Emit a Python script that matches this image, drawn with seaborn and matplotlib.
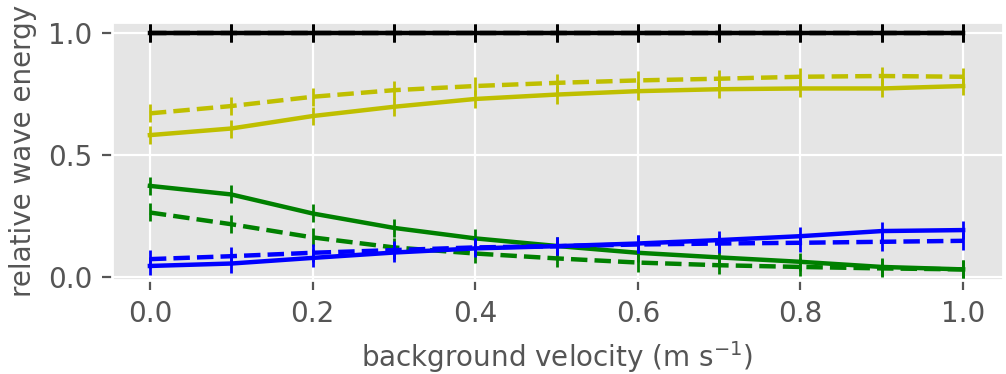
import matplotlib
matplotlib.use("Agg")
import matplotlib.pyplot as plt
import seaborn as sns

# background velocity (m/s)
velocity = [0.0, 0.1, 0.2, 0.3, 0.4, 0.5, 0.6, 0.7, 0.8, 0.9, 1.0]

# relative wave energy per band, two cases (solid / dashed)
total_a = [1.0] * 11
total_b = [1.0] * 11
yellow_a = [0.582, 0.609, 0.660, 0.698, 0.730, 0.748, 0.762, 0.770, 0.773, 0.773, 0.783]
yellow_b = [0.671, 0.701, 0.739, 0.766, 0.783, 0.796, 0.806, 0.813, 0.821, 0.824, 0.821]
green_a = [0.374, 0.339, 0.261, 0.202, 0.159, 0.128, 0.100, 0.081, 0.063, 0.042, 0.032]
green_b = [0.265, 0.217, 0.163, 0.122, 0.097, 0.077, 0.060, 0.049, 0.042, 0.036, 0.032]
blue_a = [0.046, 0.056, 0.079, 0.101, 0.118, 0.127, 0.138, 0.152, 0.168, 0.189, 0.193]
blue_b = [0.074, 0.086, 0.100, 0.111, 0.122, 0.127, 0.134, 0.138, 0.141, 0.145, 0.149]

plt.style.use("ggplot")
fig = plt.figure(figsize=(5.03, 1.87), dpi=200)
ax = fig.add_axes([0.111, 0.251, 0.886, 0.690])

series = [
    (yellow_a, "y", "-"), (yellow_b, "y", "--"),
    (green_a, "g", "-"), (green_b, "g", "--"),
    (blue_a, "b", "-"), (blue_b, "b", "--"),
    (total_a, "k", "-"), (total_b, "k", "--"),
]
for vals, col, ls in series:
    sns.lineplot(x=velocity, y=vals, ax=ax, color=col, linestyle=ls, lw=1.6,
                 marker="|", ms=6.2, mew=1.0, mec=col)

ax.set_xlim(-0.047, 1.049)
ax.set_ylim(-0.012, 1.045)
ax.set_yticks([0.0, 0.5, 1.0])
ax.set_xticks([0.0, 0.2, 0.4, 0.6, 0.8, 1.0])
ax.set_xlabel("background velocity (m s$^{-1}$)", fontsize=10)
ax.set_ylabel("relative wave energy", fontsize=10)

fig.savefig("out.png", dpi=200)
